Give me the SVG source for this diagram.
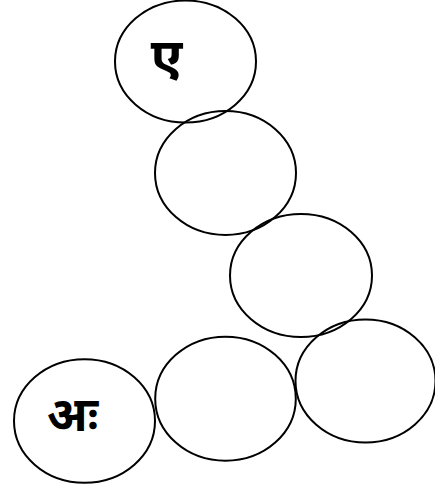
<svg xmlns="http://www.w3.org/2000/svg" width="435" height="491" viewBox="0 0 435 491">
<style>
.c{fill:none;stroke:#000;stroke-width:2}
.t{font-family:"Noto Sans","DejaVu Sans",sans-serif;font-weight:bold;fill:#000}
</style>
<rect width="435" height="491" fill="#fff"/>
<g id="n1"><ellipse class="c" cx="185.5" cy="61.5" rx="70.5" ry="61"/><text class="t" x="166.5" y="75" font-size="52" text-anchor="middle">ए</text></g>
<g id="n2"><ellipse class="c" cx="225.5" cy="173" rx="70.5" ry="62"/></g>
<g id="n3"><ellipse class="c" cx="301" cy="275.5" rx="71" ry="61.5"/></g>
<g id="n6"><ellipse class="c" cx="365.5" cy="381" rx="70" ry="61.5"/></g>
<g id="n5"><ellipse class="c" cx="225.5" cy="398.7" rx="70.3" ry="62"/></g>
<g id="n4"><ellipse class="c" cx="84.5" cy="421" rx="70.5" ry="61.7"/><text class="t" x="72.5" y="431" font-size="48" text-anchor="middle">अः</text></g>
<g id="connectors"/>
</svg>
